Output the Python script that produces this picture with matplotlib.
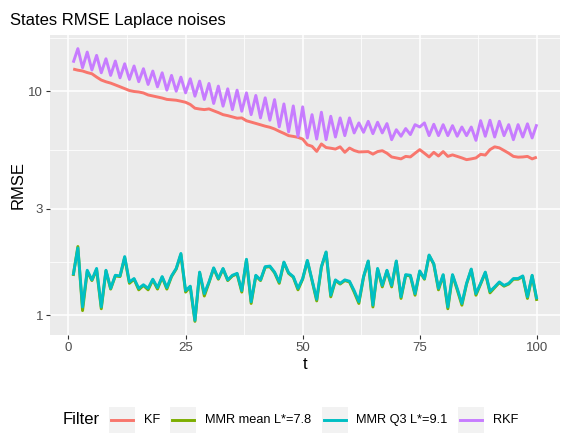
import numpy as np
import matplotlib
matplotlib.use("Agg")
import matplotlib.pyplot as plt
from matplotlib.patches import Rectangle
from matplotlib.lines import Line2D

plt.rcParams['font.family'] = ['Liberation Sans', 'DejaVu Sans']

t = list(range(1, 101))

kf = [12.6, 12.45, 12.35, 12.15, 12.0, 11.6, 11.25, 11.05, 10.9, 10.7,
      10.5, 10.3, 10.1, 10.0, 9.95, 9.85, 9.65, 9.55, 9.45, 9.35,
      9.22, 9.18, 9.14, 9.05, 8.95, 8.75, 8.42, 8.35, 8.3, 8.36,
      8.2, 8.05, 7.88, 7.8, 7.7, 7.6, 7.62, 7.4, 7.3, 7.2,
      7.1, 7.0, 6.92, 6.8, 6.64, 6.5, 6.35, 6.3, 6.24, 6.13,
      5.78, 5.69, 5.40, 5.83, 5.62, 5.58, 5.53, 5.66, 5.35, 5.59,
      5.45, 5.37, 5.38, 5.39, 5.25, 5.39, 5.44, 5.3, 5.1, 5.05,
      5.0, 5.13, 5.1, 5.3, 5.5, 5.3, 5.1, 5.35, 5.15, 5.39,
      5.13, 5.21, 5.13, 5.05, 4.96, 5.0, 5.05, 5.24, 5.2, 5.5,
      5.66, 5.6, 5.45, 5.3, 5.13, 5.09, 5.1, 5.13, 5.0, 5.09]

mmr_mean = [1.50, 2.03, 1.05, 1.57, 1.43, 1.60, 1.07, 1.58, 1.31, 1.50,
            1.49, 1.81, 1.39, 1.45, 1.30, 1.36, 1.30, 1.44, 1.31, 1.48,
            1.31, 1.49, 1.61, 1.87, 1.27, 1.34, 0.94, 1.55, 1.22, 1.40,
            1.62, 1.45, 1.61, 1.43, 1.50, 1.53, 1.27, 1.77, 1.13, 1.50,
            1.43, 1.64, 1.65, 1.55, 1.39, 1.72, 1.54, 1.48, 1.30, 1.45,
            1.75, 1.43, 1.16, 1.64, 1.91, 1.21, 1.43, 1.38, 1.43, 1.41,
            1.27, 1.13, 1.48, 1.74, 1.09, 1.61, 1.34, 1.58, 1.34, 1.74,
            1.19, 1.51, 1.50, 1.23, 1.57, 1.45, 1.85, 1.69, 1.30, 1.51,
            1.07, 1.51, 1.30, 1.11, 1.38, 1.60, 1.23, 1.38, 1.55, 1.26,
            1.33, 1.40, 1.35, 1.38, 1.45, 1.45, 1.49, 1.19, 1.50, 1.16]

mmr_q3 = [1.51, 2.00, 1.09, 1.59, 1.44, 1.62, 1.09, 1.59, 1.32, 1.51,
          1.50, 1.83, 1.41, 1.46, 1.32, 1.37, 1.32, 1.45, 1.33, 1.49,
          1.33, 1.50, 1.62, 1.89, 1.29, 1.35, 0.95, 1.56, 1.25, 1.41,
          1.63, 1.46, 1.62, 1.44, 1.51, 1.54, 1.29, 1.78, 1.15, 1.51,
          1.44, 1.65, 1.66, 1.56, 1.41, 1.73, 1.55, 1.49, 1.32, 1.46,
          1.76, 1.44, 1.18, 1.65, 1.92, 1.23, 1.44, 1.39, 1.44, 1.42,
          1.29, 1.15, 1.49, 1.75, 1.11, 1.62, 1.36, 1.59, 1.36, 1.75,
          1.21, 1.52, 1.51, 1.25, 1.58, 1.46, 1.86, 1.70, 1.32, 1.52,
          1.09, 1.52, 1.32, 1.13, 1.39, 1.61, 1.25, 1.39, 1.56, 1.28,
          1.34, 1.41, 1.36, 1.39, 1.46, 1.46, 1.50, 1.21, 1.51, 1.18]

rkf = [13.45, 15.54, 12.77, 15.0, 12.47, 14.5, 12.12, 14.0, 11.8, 13.68,
       11.51, 13.3, 11.32, 13.0, 11.06, 12.64, 10.75, 12.34, 10.49, 12.12,
       10.14, 11.8, 10.03, 11.59, 9.86, 11.40, 9.53, 11.13, 9.21, 10.86,
       8.84, 10.57, 8.60, 10.28, 8.30, 10.14, 8.16, 9.86, 7.88, 9.60,
       7.62, 9.37, 7.44, 9.2, 6.95, 8.8, 6.6, 8.62, 6.3, 8.54,
       6.2, 7.88, 6.13, 8.08, 6.09, 7.75, 6.26, 7.62, 6.35, 7.62,
       6.53, 7.24, 6.57, 7.36, 6.48, 7.29, 6.53, 7.19, 6.09, 6.75,
       6.31, 6.83, 6.42, 7.11, 6.94, 7.24, 6.35, 7.14, 6.35, 7.11,
       6.35, 7.04, 6.31, 6.94, 6.35, 6.94, 6.05, 7.41, 6.31, 7.44,
       6.26, 7.36, 6.35, 7.11, 6.09, 7.11, 6.26, 7.17, 6.20, 7.14]

series_names = ["KF", "MMR mean L*=7.8", "MMR Q3 L*=9.1", "RKF"]
series_values = [kf, mmr_mean, mmr_q3, rkf]
series_colors = ["#F8766D", "#7CAE00", "#00BFC4", "#C77CFF"]

x_ticks = [0, 25, 50, 75, 100]
y_ticks = [1, 3, 10]
y_tick_labels = ["1", "3", "10"]

W, H = 567, 433
fig = plt.figure(figsize=(W / 100, H / 100), dpi=100)
fig.patch.set_facecolor("white")
L, R, T, B = 50, 560, 35, 335
ax = fig.add_axes([L / W, 1 - B / H, (R - L) / W, (B - T) / H])
ax.set_facecolor("#EBEBEB")
ax.set_yscale("log")

lw = 2.1
for name, vals, col in zip(series_names, series_values, series_colors):
    ax.plot(t, vals, color=col, lw=lw, solid_joinstyle="round", solid_capstyle="butt", zorder=3)

# expanded limits (ggplot 5%)
tmin, tmax = min(t), max(t)
dx = 0.05 * (tmax - tmin)
ax.set_xlim(tmin - dx, tmax + dx)
allv = np.concatenate([np.asarray(v) for v in series_values])
lo, hi = np.log10(allv.min()), np.log10(allv.max())
dy = 0.05 * (hi - lo)
ax.set_ylim(10 ** (lo - dy), 10 ** (hi + dy))

ax.set_xticks(x_ticks)
ax.set_xticks([12.5, 37.5, 62.5, 87.5], minor=True)
ax.set_yticks(y_ticks)
ax.set_yticklabels(y_tick_labels)
ax.set_yticks([np.sqrt(3), np.sqrt(30), np.sqrt(300)], minor=True)
ax.yaxis.set_minor_formatter(matplotlib.ticker.NullFormatter())

ax.grid(True, which="major", color="white", lw=1.1, zorder=1)
ax.grid(True, which="minor", color="white", lw=0.55, zorder=1)
ax.set_axisbelow(True)
for s in ax.spines.values():
    s.set_visible(False)
ax.tick_params(which="major", length=3, width=0.8, color="#333333", labelcolor="#4D4D4D",
               labelsize=9.5, pad=2)
ax.tick_params(which="minor", length=0)

ax.set_xlabel("t", fontsize=12, color="black", labelpad=2)
ax.set_ylabel("RMSE", fontsize=12, color="black", labelpad=2)

fig.text(10 / W, 1 - 20 / H, "States RMSE Laplace noises", fontsize=12, color="black",
         ha="left", va="center")

# legend at bottom
fig.canvas.draw()
renderer = fig.canvas.get_renderer()
ycen = 1 - 420 / H
key = 26
xcur = 63
tt = fig.text(xcur / W, ycen, "Filter", fontsize=12, ha="left", va="center")
bb = tt.get_window_extent(renderer)
xcur = bb.x1 + 9
for name, col in zip(series_names, series_colors):
    fig.add_artist(Rectangle((xcur / W, 0.0), key / W, key / H,
                             transform=fig.transFigure, facecolor="#F2F2F2", edgecolor="none"))
    fig.add_artist(Line2D([(xcur + 2) / W, (xcur + key - 2) / W], [ycen, ycen],
                          transform=fig.transFigure, color=col, lw=lw))
    xcur += key + 9
    txt = fig.text(xcur / W, ycen, name, fontsize=9.2, ha="left", va="center")
    bb = txt.get_window_extent(renderer)
    xcur = bb.x1 + 10

fig.savefig("out.png", dpi=100)
